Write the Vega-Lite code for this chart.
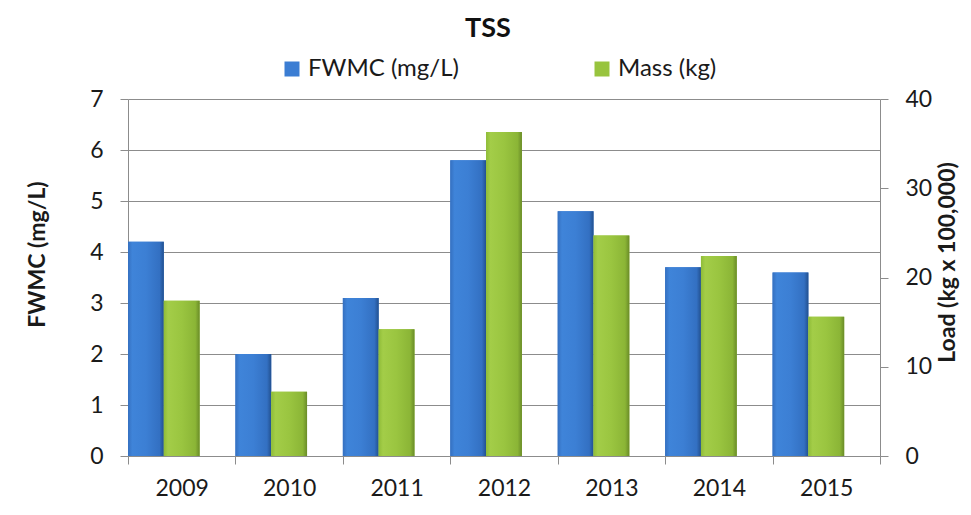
{
  "$schema": "https://vega.github.io/schema/vega-lite/v6.json",
  "width": 752,
  "height": 357,
  "autosize": "none",
  "padding": {"left": 128, "top": 99, "right": 91, "bottom": 59},
  "background": "white",
  "config": {
    "font": "Lato",
    "view": {"stroke": null},
    "axis": {
      "domainColor": "#8c8c8c",
      "tickColor": "#8c8c8c",
      "gridColor": "#8c8c8c",
      "labelColor": "#1a1a1a",
      "titleColor": "#1a1a1a",
      "labelFont": "Lato",
      "titleFont": "Lato"
    }
  },
  "title": {
    "text": "TSS",
    "fontSize": 27,
    "fontWeight": "bold",
    "font": "Lato",
    "color": "#111111",
    "anchor": "middle",
    "frame": "group",
    "offset": 14,
    "dx": -16
  },
  "data": {
    "values": [
      {"year": "2009", "fwmc": 4.2, "mass": 17.4},
      {"year": "2010", "fwmc": 2.0, "mass": 7.2},
      {"year": "2011", "fwmc": 3.1, "mass": 14.2},
      {"year": "2012", "fwmc": 5.8, "mass": 36.3},
      {"year": "2013", "fwmc": 4.8, "mass": 24.7},
      {"year": "2014", "fwmc": 3.7, "mass": 22.4},
      {"year": "2015", "fwmc": 3.6, "mass": 15.6}
    ]
  },
  "encoding": {
    "x": {
      "field": "year",
      "type": "ordinal",
      "scale": {"paddingInner": 0, "paddingOuter": 0},
      "axis": {
        "title": null,
        "labelAngle": 0,
        "labelFontSize": 23,
        "labelPadding": 13,
        "tickSize": 8,
        "tickBand": "extent",
        "domainWidth": 1,
        "grid": false
      }
    }
  },
  "layer": [
    {
      "encoding": {
        "y": {
          "field": "fwmc",
          "type": "quantitative",
          "scale": {"domain": [0, 7], "nice": false},
          "axis": {
            "orient": "left",
            "title": "FWMC (mg/L)",
            "titleFontSize": 23,
            "titleFontWeight": "bold",
            "titlePadding": 40,
            "titleY": 155,
            "values": [0, 1, 2, 3, 4, 5, 6, 7],
            "labelFontSize": 23,
            "labelPadding": 17,
            "tickSize": 8,
            "grid": true,
            "gridWidth": 1
          }
        },
        "xOffset": {
          "datum": "FWMC (mg/L)",
          "type": "nominal",
          "scale": {"domain": ["FWMC (mg/L)", "Mass (kg)", "pad"], "paddingInner": 0, "paddingOuter": 0}
        }
      },
      "layer": [
        {
          "mark": {"type": "bar"},
          "encoding": {
            "color": {
              "datum": "FWMC (mg/L)",
              "type": "nominal",
              "scale": {"domain": ["FWMC (mg/L)", "Mass (kg)"], "range": ["#3b7dd3", "#98c43e"]},
              "legend": {
                "title": null,
                "orient": "none",
                "legendX": 152,
                "legendY": -42,
                "direction": "horizontal",
                "symbolType": "square",
                "symbolSize": 225,
                "labelFontSize": 24,
                "labelColor": "#1a1a1a",
                "labelFont": "Lato",
                "columnPadding": 131,
                "labelOffset": 4
              }
            }
          }
        },
        {
          "mark": {
            "type": "bar",
            "fill": {
              "gradient": "linear",
              "x1": 0, "y1": 0, "x2": 1, "y2": 0,
              "stops": [
                {"offset": 0, "color": "#3570c0"},
                {"offset": 0.12, "color": "#3f84d9"},
                {"offset": 0.5, "color": "#3c7fd4"},
                {"offset": 0.88, "color": "#3370c2"},
                {"offset": 1, "color": "#22508f"}
              ]
            }
          }
        }
      ]
    },
    {
      "encoding": {
        "y": {
          "field": "mass",
          "type": "quantitative",
          "scale": {"domain": [0, 40], "nice": false},
          "axis": {
            "orient": "right",
            "title": "Load (kg x 100,000)",
            "titleFontSize": 23,
            "titleFontWeight": "bold",
            "titleAngle": 270,
            "titlePadding": 28,
            "titleY": 163,
            "values": [0, 10, 20, 30, 40],
            "labelFontSize": 23,
            "labelPadding": 17,
            "tickSize": 8,
            "grid": false
          }
        },
        "xOffset": {
          "datum": "Mass (kg)",
          "type": "nominal"
        }
      },
      "layer": [
        {
          "mark": {"type": "bar"},
          "encoding": {
            "color": {"datum": "Mass (kg)", "type": "nominal"}
          }
        },
        {
          "mark": {
            "type": "bar",
            "fill": {
              "gradient": "linear",
              "x1": 0, "y1": 0, "x2": 1, "y2": 0,
              "stops": [
                {"offset": 0, "color": "#8fbc38"},
                {"offset": 0.12, "color": "#a3cd48"},
                {"offset": 0.5, "color": "#9ac540"},
                {"offset": 0.88, "color": "#8bb536"},
                {"offset": 1, "color": "#6a8c28"}
              ]
            }
          }
        }
      ]
    }
  ],
  "resolve": {"scale": {"y": "independent"}}
}
